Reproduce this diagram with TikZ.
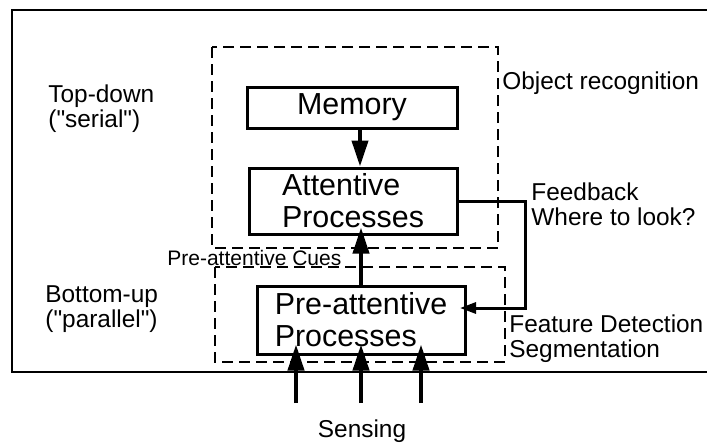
\documentclass[tikz,border=0pt]{standalone}
\usepackage{fontspec}
% plain family: keeps straight double quotes
\newfontfamily\diagfont{Liberation Sans}
\usetikzlibrary{arrows.meta}

\tikzset{
  procbox/.style={draw, line width=1.5pt, inner sep=0pt, align=left,
    font=\diagfont\fontsize{15.2}{16}\selectfont},
  groupbox/.style={draw, line width=0.7pt, dash pattern=on 5.5pt off 3pt},
  frameline/.style={draw, line width=0.9pt},
  sidelabel/.style={inner sep=0pt, align=left, font=\diagfont\fontsize{12.2}{12.4}\selectfont},
  cuelabel/.style={inner sep=0pt, font=\diagfont\fontsize{10.5}{11}\selectfont},
  flowarrow/.style={line width=2pt, -{Triangle[length=13pt, width=8pt]}},
  feedarrow/.style={line width=1.5pt, -{Triangle[length=8pt, width=5.5pt]}},
}

\begin{document}
\begin{tikzpicture}[x=0.5pt, y=-0.5pt]
  \useasboundingbox (0,0) rectangle (707,446);

  % outer frame, open on the right
  \draw[frameline] (712,10) -- (12,10) -- (12,372) -- (712,372);

  % dashed groups
  \draw[groupbox] (212,47) rectangle (498,248);
  \draw[groupbox] (215,267) rectangle (505,362);

  % processing stages
  \node[procbox, minimum width=105pt, minimum height=20.5pt] (mem) at (352,107.5) {Memory};
  \node[procbox, minimum width=104pt, minimum height=33pt] (att) at (353,201) {Attentive\\Processes};
  \node[procbox, minimum width=104pt, minimum height=34pt] (pre) at (361,320) {Pre-attentive\\Processes};

  % side labels
  \node[sidelabel, anchor=west] (td) at (48,109) {Top-down\\("serial")};
  \node[sidelabel, anchor=west] (bu) at (45,309) {Bottom-up\\("parallel")};
  \node[sidelabel, anchor=base west] (obj) at (502,89) {Object recognition};
  \node[sidelabel, anchor=west] (fb) at (531,204) {Feedback\\Where to look?};
  \node[sidelabel, anchor=west] (feat) at (509,339) {Feature Detection\\Segmentation};
  \node[cuelabel, anchor=base west] (cues) at (167,265) {Pre-attentive Cues};
  \node[sidelabel, anchor=base] (sens) at (362,437) {Sensing};

  % memory to attention
  \coordinate (colA) at (360,0);
  \draw[flowarrow] (mem.south -| colA) -- (att.north -| colA);

  % pre-attentive cues upward
  \draw[flowarrow] (pre.north) -- ([yshift=4pt]att.south -| pre.north);

  % feedback loop
  \coordinate (fbx) at (525,308);
  \coordinate (fbend) at (460,308);
  \draw[feedarrow] (att.east) -| (fbx) -- (fbend);

  % sensing inputs
  \coordinate (s1) at (296,403);
  \coordinate (s2) at (361,403);
  \coordinate (s3) at (421,403);
  \draw[flowarrow] (s1) -- ([yshift=5.5pt]pre.south -| s1);
  \draw[flowarrow] (s2) -- ([yshift=5.5pt]pre.south -| s2);
  \draw[flowarrow] (s3) -- ([yshift=5.5pt]pre.south -| s3);
\end{tikzpicture}
\end{document}
